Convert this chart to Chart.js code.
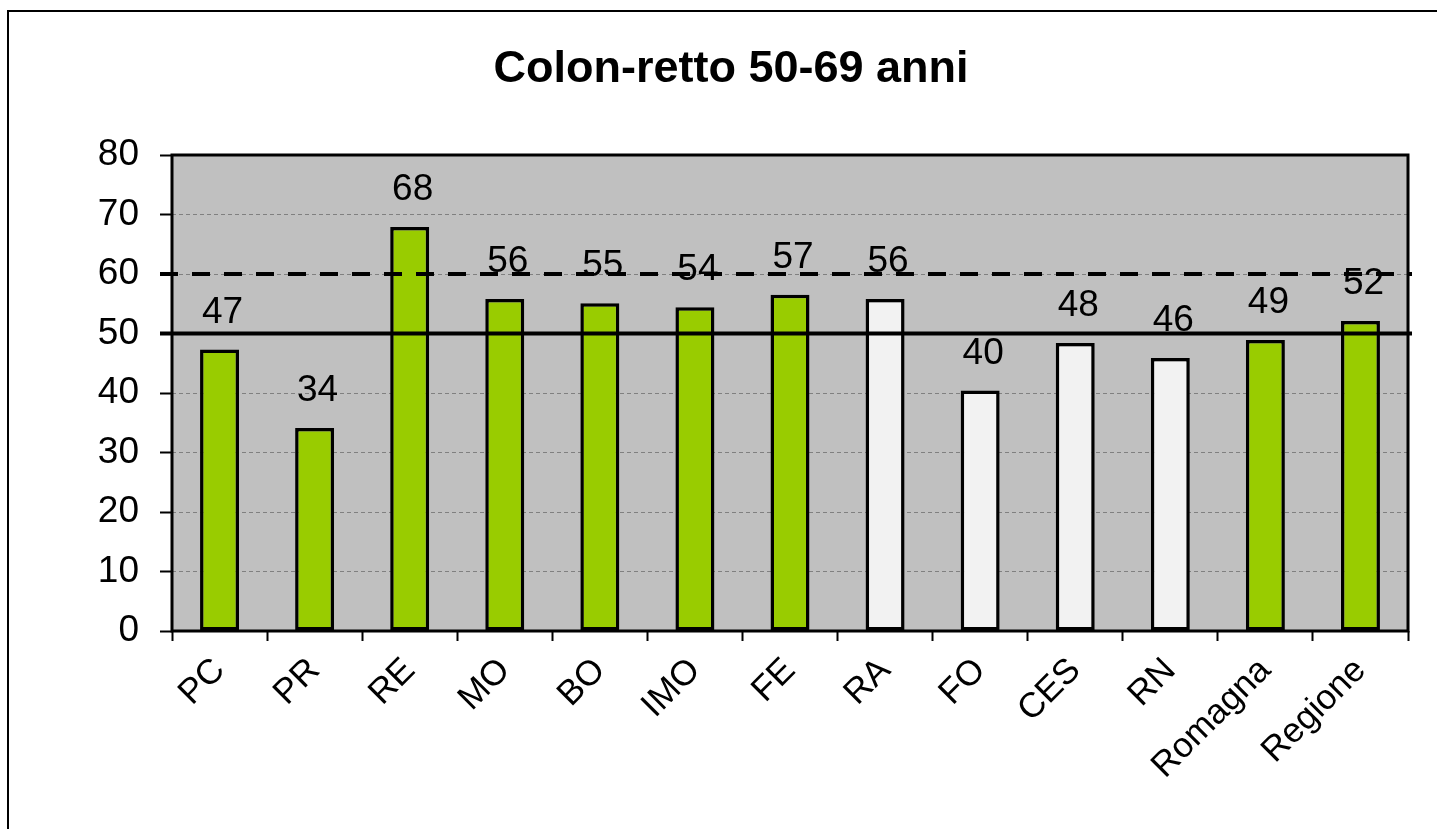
<!DOCTYPE html>
<html>
<head>
<meta charset="utf-8">
<script src="https://cdn.jsdelivr.net/npm/chart.js@4/dist/chart.umd.min.js"></script>
<style>
  html, body { margin: 0; padding: 0; background: #fff; }
  #wrap { width: 1437px; height: 829px; position: relative; }
</style>
</head>
<body>
<div id="wrap"><canvas id="myViz"></canvas></div>
<script>
// dati
const titleText = 'Colon-retto 50-69 anni';
const categories = ['PC', 'PR', 'RE', 'MO', 'BO', 'IMO', 'FE', 'RA', 'FO', 'CES', 'RN', 'Romagna', 'Regione'];
const values = [47.3, 34.1, 67.9, 55.8, 55.1, 54.4, 56.5, 55.8, 40.4, 48.4, 45.9, 48.9, 52.1];
const romagnaAreas = ['RA', 'FO', 'CES', 'RN'];
const refSolid = 50;   // soglia accettabile
const refDashed = 60;  // soglia desiderabile
const yTicks = [0, 10, 20, 30, 40, 50, 60, 70, 80];

const FONT = '"Liberation Sans", Arial, sans-serif';
const GREEN = '#99cc00';
const LIGHT = '#f2f2f2';
const PLOT_BG = '#c0c0c0';

// sfondo grigio, cornice, titolo
const framePlugin = {
  id: 'frame',
  beforeDraw(chart) {
    const { ctx, chartArea: a } = chart;
    ctx.save();
    ctx.fillStyle = PLOT_BG;
    ctx.fillRect(a.left, a.top, a.right - a.left, a.bottom - a.top);
    // bordo esterno (solo sopra e a sinistra visibili)
    ctx.strokeStyle = '#000';
    ctx.lineWidth = 2;
    ctx.beginPath();
    ctx.moveTo(1437, 11);
    ctx.lineTo(8, 11);
    ctx.lineTo(8, 829);
    ctx.stroke();
    // titolo
    ctx.fillStyle = '#000';
    ctx.font = 'bold 45px ' + FONT;
    ctx.textAlign = 'center';
    ctx.textBaseline = 'middle';
    ctx.fillText(titleText, 731, 70);
    ctx.restore();
  },
  afterDatasetsDraw(chart) {
    const { ctx, chartArea: a, scales } = chart;
    const y = scales.y;
    ctx.save();
    // linee di riferimento
    ctx.strokeStyle = '#000';
    ctx.lineWidth = 4;
    ctx.setLineDash([18, 14]);
    ctx.beginPath();
    ctx.moveTo(a.left - 12, y.getPixelForValue(refDashed));
    ctx.lineTo(a.right + 4, y.getPixelForValue(refDashed));
    ctx.stroke();
    ctx.setLineDash([]);
    ctx.beginPath();
    ctx.moveTo(a.left - 12, y.getPixelForValue(refSolid));
    ctx.lineTo(a.right + 4, y.getPixelForValue(refSolid));
    ctx.stroke();
    // bordo area grafico
    ctx.lineWidth = 3;
    ctx.strokeRect(a.left, a.top, a.right - a.left, a.bottom - a.top);
    // etichette valori
    ctx.fillStyle = '#000';
    ctx.font = '37px ' + FONT;
    ctx.textAlign = 'center';
    ctx.textBaseline = 'alphabetic';
    chart.getDatasetMeta(0).data.forEach((bar, i) => {
      ctx.fillText(String(Math.round(values[i])), bar.x + 3, bar.y - 27);
    });
    ctx.restore();
  }
};

const canvas = document.getElementById('myViz');
new Chart(canvas.getContext('2d'), {
  type: 'bar',
  data: {
    labels: categories,
    datasets: [{
      data: values,
      backgroundColor: categories.map(c => romagnaAreas.includes(c) ? LIGHT : GREEN),
      borderColor: '#000',
      borderWidth: 3.5,
      borderSkipped: false,
      barPercentage: 0.41,
      categoryPercentage: 1.0
    }]
  },
  options: {
    responsive: true,
    maintainAspectRatio: false,
    animation: false,
    layout: { padding: { top: 155, right: 29, left: 0, bottom: 0 } },
    plugins: {
      legend: { display: false },
      tooltip: { enabled: false },
      title: { display: false }
    },
    scales: {
      x: {
        type: 'category',
        offset: true,
        afterFit: (s) => { s.height = 198; },
        grid: {
          offset: true,
          drawOnChartArea: false,
          tickLength: 10,
          tickColor: '#000',
          tickWidth: 2
        },
        border: { display: false },
        ticks: {
          color: '#000',
          font: { family: FONT, size: 35 },
          minRotation: 45,
          maxRotation: 45,
          autoSkip: false,
          padding: 9
        }
      },
      y: {
        min: 0,
        max: 80,
        afterFit: (s) => { s.width = 172; },
        afterBuildTicks: (s) => { s.ticks = yTicks.map(v => ({ value: v })); },
        grid: {
          color: '#808080',
          lineWidth: 1,
          tickLength: 12,
          tickColor: '#000',
          tickWidth: 2
        },
        border: { display: false, dash: [4, 3] },
        ticks: {
          color: '#000',
          font: { family: FONT, size: 37 },
          padding: 21
        }
      }
    }
  },
  plugins: [framePlugin]
});
</script>
</body>
</html>
